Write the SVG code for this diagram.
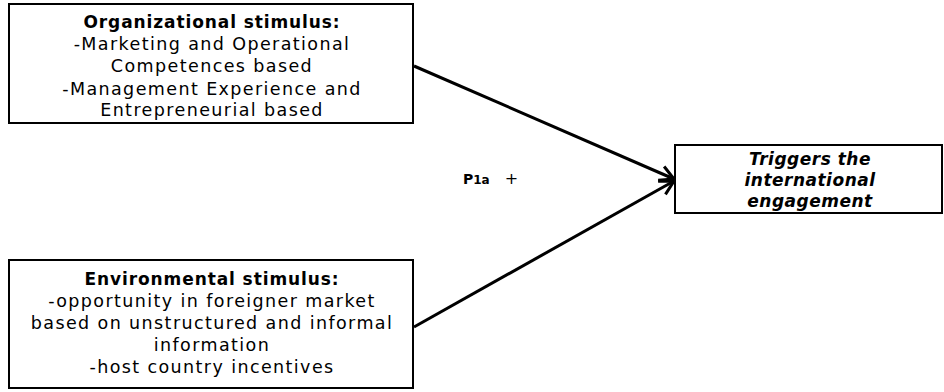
<svg xmlns="http://www.w3.org/2000/svg" width="944" height="392" viewBox="0 0 944 392">
  <defs>
    <style>
      .box { fill: #ffffff; stroke: #000000; stroke-width: 2; }
      .txt { font-family: "DejaVu Sans", "Liberation Sans", sans-serif; font-size: 17.5px; fill: #000000; text-anchor: middle; letter-spacing: 1.4px; }
      .hd { font-size: 17px; font-weight: bold; letter-spacing: 0.9px; }
      .it { font-size: 17px; font-weight: bold; font-style: italic; letter-spacing: 0.5px; }
      .edge { fill: none; stroke: #000000; stroke-width: 3; }
    </style>
    <marker id="open-arrow" markerUnits="userSpaceOnUse" markerWidth="24" markerHeight="24" refX="16" refY="9" orient="auto" viewBox="0 0 24 18">
      <path d="M2,1.5 L16,9 L2,16.5" fill="none" stroke="#000000" stroke-width="3" stroke-linejoin="miter"/>
    </marker>
  </defs>

  <g id="connectors">
    <line class="edge" x1="414" y1="66" x2="674" y2="179" marker-end="url(#open-arrow)"/>
    <line class="edge" x1="414" y1="327" x2="674" y2="181" marker-end="url(#open-arrow)"/>
  </g>

  <g id="organizational">
    <rect class="box" x="9" y="4" width="404" height="119"/>
    <text class="txt hd" x="212" y="28">Organizational stimulus:</text>
    <text class="txt" x="212" y="50">-Marketing and Operational</text>
    <text class="txt" x="212" y="72">Competences based</text>
    <text class="txt" x="212" y="95">-Management Experience and</text>
    <text class="txt" x="212" y="116">Entrepreneurial based</text>
  </g>

  <g id="environmental">
    <rect class="box" x="9" y="260" width="404" height="128"/>
    <text class="txt hd" x="212" y="285">Environmental stimulus:</text>
    <text class="txt" x="212" y="307">-opportunity in foreigner market</text>
    <text class="txt" x="212" y="329">based on unstructured and informal</text>
    <text class="txt" x="212" y="351">information</text>
    <text class="txt" x="212" y="373">-host country incentives</text>
  </g>

  <g id="triggers">
    <rect class="box" x="675" y="145" width="267" height="68"/>
    <text class="txt it" x="810" y="165">Triggers the</text>
    <text class="txt it" x="810" y="186">international</text>
    <text class="txt it" x="810" y="207">engagement</text>
  </g>

  <g id="label-p1a">
    <text font-family="'DejaVu Sans', 'Liberation Sans', sans-serif" font-weight="bold" font-size="14" x="463" y="184">P<tspan font-size="12">1a</tspan><tspan dx="15" font-size="16" font-weight="normal">+</tspan></text>
  </g>
</svg>
